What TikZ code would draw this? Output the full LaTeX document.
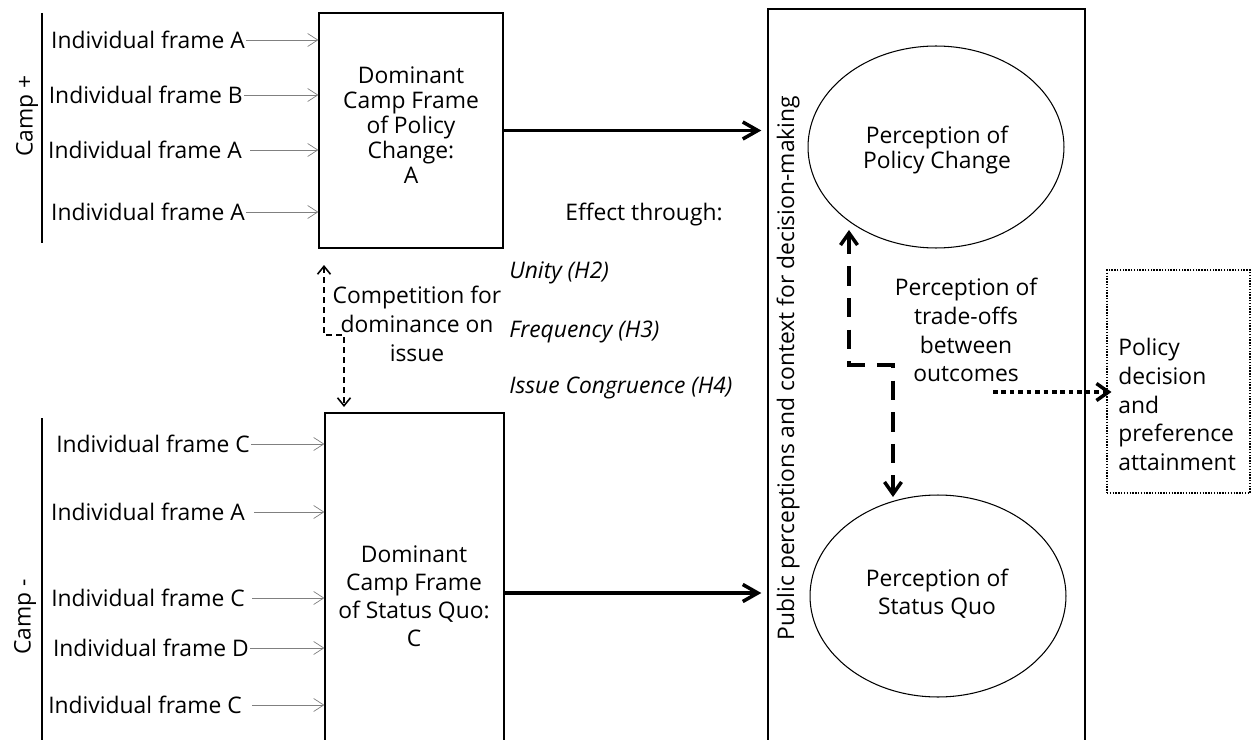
\documentclass[tikz,border=0pt]{standalone}
\usepackage{fontspec}
\setmainfont{Open Sans}
\usetikzlibrary{arrows.meta,shapes.geometric,calc}
\begin{document}
\begin{tikzpicture}[x=0.02cm,y=-0.02cm,
  font=\fontsize{13}{16.4}\selectfont,
  frame/.style={inner sep=0.5pt, anchor=east},
  feed/.style={draw=black!50, line width=0.4pt, -{Straight Barb[length=2mm,width=2.6mm]}},
  boxr/.style={draw, line width=0.8pt, rectangle, inner sep=0pt},
  txt/.style={align=center, inner sep=0pt},
  mainarrow/.style={line width=2pt, -{Straight Barb[length=3mm,width=3.4mm]}},
  comparrow/.style={line width=0.9pt, dash pattern=on 3.4pt off 2.3pt,
     {Straight Barb[length=1.6mm,width=2.6mm]}-{Straight Barb[length=1.6mm,width=2.6mm]}},
  tradearrow/.style={line width=2pt, dash pattern=on 11pt off 7pt,
     {Straight Barb[length=2.4mm,width=3.4mm]}-{Straight Barb[length=2.4mm,width=3.4mm]}},
  dotarrow/.style={line width=2pt, dash pattern=on 2.6pt off 2.2pt,
     -{Straight Barb[length=2.4mm,width=3.4mm]}},
]
\clip (0,0) rectangle (1252,740);
\fill[white] (0,0) rectangle (1252,740);

% Camp + group
\draw[line width=0.6pt] (42,13) -- (42,243);
\node[rotate=90, inner sep=0pt] (campp) at (27,116) {Camp +};
\node[boxr, minimum width=3.68cm, minimum height=4.7cm] (b1) at (411,130.5) {};
\node[txt, font=\fontsize{13}{14.2}\selectfont] (b1t) at (411,125) {Dominant\\Camp Frame\\of Policy\\Change:\\A};

\node[frame] (f1) at (246,40) {Individual frame A};
\node[frame] (f2) at (244,95) {Individual frame B};
\node[frame] (f3) at (243,150) {Individual frame A};
\node[frame] (f4) at (246,212) {Individual frame A};
\draw[feed] (f1.east) -- (f1.east -| b1.west);
\draw[feed] (f2.east) -- (f2.east -| b1.west);
\draw[feed] ($(f3.east)+(7,0)$) -- (f3.east -| b1.west);
\draw[feed] (f4.east) -- (f4.east -| b1.west);

% Camp - group
\draw[line width=0.6pt] (42,418) -- (42,745);
\node[rotate=90, inner sep=0pt] (campm) at (25,617) {Camp -};
\node[boxr, minimum width=3.58cm, minimum height=7.14cm] (b2) at (414.5,591.5) {};
\node[txt, font=\fontsize{13}{16}\selectfont] (b2t) at (414,596) {Dominant\\Camp Frame\\of Status Quo:\\C};

\node[frame] (g1) at (251,444) {Individual frame C};
\node[frame] (g2) at (246,512) {Individual frame A};
\node[frame] (g3) at (246,598) {Individual frame C};
\node[frame] (g4) at (250,648) {Individual frame D};
\node[frame] (g5) at (243,705) {Individual frame C};
\draw[feed] (g1.east) -- (g1.east -| b2.west);
\draw[feed] ($(g2.east)+(8,0)$) -- (g2.east -| b2.west);
\draw[feed] ($(g3.east)+(6,0)$) -- (g3.east -| b2.west);
\draw[feed] (g4.east) -- (g4.east -| b2.west);
\draw[feed] ($(g5.east)+(9,0)$) -- (g5.east -| b2.west);

% competition
\coordinate (cu) at (324,265);
\coordinate (cd) at (344,407);
\draw[comparrow] (cu) -- (324,335) -| (cd);
\node[txt] (comp) at (417,324) {Competition for\\dominance on\\issue};

% effect
\node[inner sep=0pt] (eff) at (644,215) {Effect through:};
\node[anchor=west, inner sep=0pt] (h2) at (509,273) {\itshape Unity (H2)};
\node[anchor=west, inner sep=0pt] (h3) at (509,332) {\itshape Frequency (H3)};
\node[anchor=west, inner sep=0pt] (h4) at (509,388) {\itshape Issue Congruence (H4)};

% public perceptions
\node[boxr, minimum width=6.34cm, minimum height=15.22cm] (P) at (926.5,389.5) {};
\node[rotate=90, inner sep=0pt] (Pt) at (788,368) {Public perceptions and context for decision-making};

\draw[mainarrow] (b1.east) -- ($(b1.east -| P.west)+(-6,0)$);
\draw[mainarrow] ($(b2.east)+(0,1.5)$) -- ($(b2.east -| P.west)+(-6,1.5)$);

\node[ellipse, draw, line width=0.6pt, minimum width=5.12cm, minimum height=4.04cm, inner sep=0pt] (e1) at (936,147) {};
\node[txt, font=\fontsize{13}{14.2}\selectfont] (e1t) at (937,150) {Perception of\\Policy Change};
\node[ellipse, draw, line width=0.6pt, minimum width=5.12cm, minimum height=4.04cm, inner sep=0pt] (e2) at (938,596) {};
\node[txt, font=\fontsize{13}{15.9}\selectfont] (e2t) at (937,594) {Perception of\\Status Quo};

% trade-offs
\coordinate (tu) at (849,230);
\coordinate (td) at (893,497);
\draw[tradearrow] (tu) -- (849,365) -| (td);
\node[txt] (tt) at (966,330) {Perception of\\trade-offs\\between\\outcomes};

% policy decision
\node[draw, line width=0.6pt, dash pattern=on 0.8pt off 0.8pt, minimum width=2.86cm, minimum height=4.46cm, inner sep=0pt] (pd) at (1178.5,381.5) {};
\node[align=left, anchor=west, inner sep=0pt] (pdt) at (1118,404.5) {Policy\\decision\\and\\preference\\attainment};
\coordinate (ds) at (993,392);
\draw[dotarrow] (ds) -- ($(ds -| pd.west)+(5,0)$);
\end{tikzpicture}
\end{document}
